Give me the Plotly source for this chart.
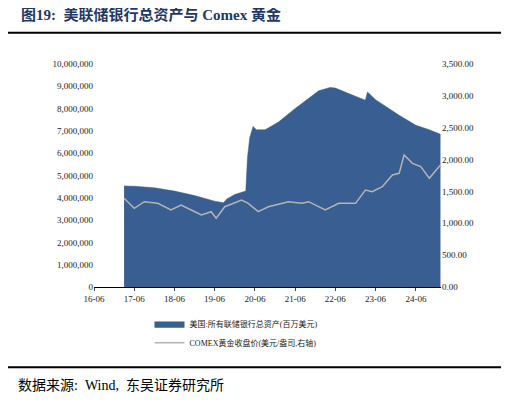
import plotly.graph_objects as go

fed_dates = ["2017-03-01","2017-06-01","2017-12-01","2018-06-01","2018-12-01","2019-06-01","2019-08-20",
             "2019-09-20","2019-12-01","2020-02-25","2020-03-10","2020-03-25","2020-04-15","2020-05-15","2020-06-15",
             "2020-09-01","2021-01-01","2021-06-01","2022-01-01","2022-04-15","2022-06-01","2022-12-01","2023-02-28",
             "2023-03-20","2023-06-01","2024-01-01","2024-06-01","2024-10-01","2025-01-10"]
fed_vals = [4530000,4520000,4450000,4300000,4100000,3850000,3780000,
            3950000,4150000,4250000,4300000,5800000,6700000,7200000,7050000,
            7050000,7400000,8000000,8800000,8950000,8920000,8550000,8380000,
            8750000,8400000,7700000,7250000,7050000,6850000]

gold_dates = ["2017-03-01","2017-06-01","2017-09-01","2018-01-01","2018-05-01","2018-08-01","2018-11-01",
              "2019-02-01","2019-05-01","2019-06-15","2019-09-01","2020-02-01","2020-04-01","2020-07-01","2020-10-01",
              "2021-04-01","2021-08-01","2021-10-01","2022-03-01","2022-07-01","2022-12-01","2023-03-01","2023-05-01",
              "2023-08-01","2023-11-01","2024-01-01","2024-02-15","2024-05-01","2024-07-15","2024-10-01","2025-01-10"]
gold_vals = [1392,1235,1339,1313,1208,1287,1208,
             1130,1182,1078,1260,1365,1313,1182,1260,
             1339,1313,1339,1208,1313,1313,1522,1496,
             1574,1758,1784,2072,1941,1889,1706,1915]

x_ticks = ["2016-06-01","2017-06-01","2018-06-01","2019-06-01","2020-06-01","2021-06-01","2022-06-01","2023-06-01","2024-06-01"]
x_labels = ["16-06","17-06","18-06","19-06","20-06","21-06","22-06","23-06","24-06"]
y1_ticks = list(range(0, 10000001, 1000000))
y2_ticks = [0,500,1000,1500,2000,2500,3000,3500]

serif = "Liberation Serif, Noto Serif CJK SC, serif"
cjk = "Liberation Serif, Noto Sans CJK SC"

fig = go.Figure()
fig.add_trace(go.Scatter(x=fed_dates, y=fed_vals, fill="tozeroy", mode="lines",
                         line=dict(color="#385E92", width=0.5), fillcolor="#385E92",
                         name="美国:所有联储银行总资产(百万美元)"))
fig.add_trace(go.Scatter(x=gold_dates, y=gold_vals, mode="lines", yaxis="y2",
                         line=dict(color="#B4B4B4", width=1.5),
                         name="COMEX黄金收盘价(美元/盎司,右轴)"))

fig.update_layout(
    width=509, height=402, paper_bgcolor="white", plot_bgcolor="white",
    margin=dict(l=86, r=76, t=56, b=123, autoexpand=False),
    font=dict(family=serif, size=9, color="#222"),
    showlegend=True,
    legend=dict(x=0.16, y=-0.1, xanchor="left", yanchor="top", font=dict(family=cjk, size=8),
                bgcolor="rgba(0,0,0,0)", tracegroupgap=4),
    xaxis=dict(type="date", range=["2016-06-01","2025-01-15"], tickvals=x_ticks, ticktext=x_labels,
               showgrid=False, showline=True, linecolor="#000", ticks="outside", ticklen=3,
               tickfont=dict(size=9), automargin=False),
    yaxis=dict(range=[0,10000000], tickvals=y1_ticks, ticktext=[f"{v:,}" for v in y1_ticks],
               showgrid=False, showline=False, ticks="", tickfont=dict(size=9), automargin=False),
    yaxis2=dict(range=[0,3500], overlaying="y", side="right", tickvals=y2_ticks,
                ticktext=[f"{v:,.2f}" for v in y2_ticks], showgrid=False, showline=False,
                tickfont=dict(size=9), automargin=False),
    shapes=[
        dict(type="line", xref="paper", yref="paper", x0=-0.25, x1=1.2, y0=1.14, y1=1.14,
             line=dict(color="#000", width=2)),
        dict(type="line", xref="paper", yref="paper", x0=-0.25, x1=1.2, y0=-0.36, y1=-0.36,
             line=dict(color="#000", width=2)),
    ],
    annotations=[
        dict(text="<b>图19:  美联储银行总资产与 Comex 黄金</b>", xref="paper", yref="paper",
             x=-0.215, y=1.22, xanchor="left", yanchor="middle", showarrow=False,
             font=dict(family=cjk, size=15, color="#1F3864")),
        dict(text="数据来源:  Wind,  东吴证券研究所", xref="paper", yref="paper",
             x=-0.225, y=-0.44, xanchor="left", yanchor="middle", showarrow=False,
             font=dict(family=cjk, size=14, color="#000")),
    ],
)
fig.write_html("out.html")
